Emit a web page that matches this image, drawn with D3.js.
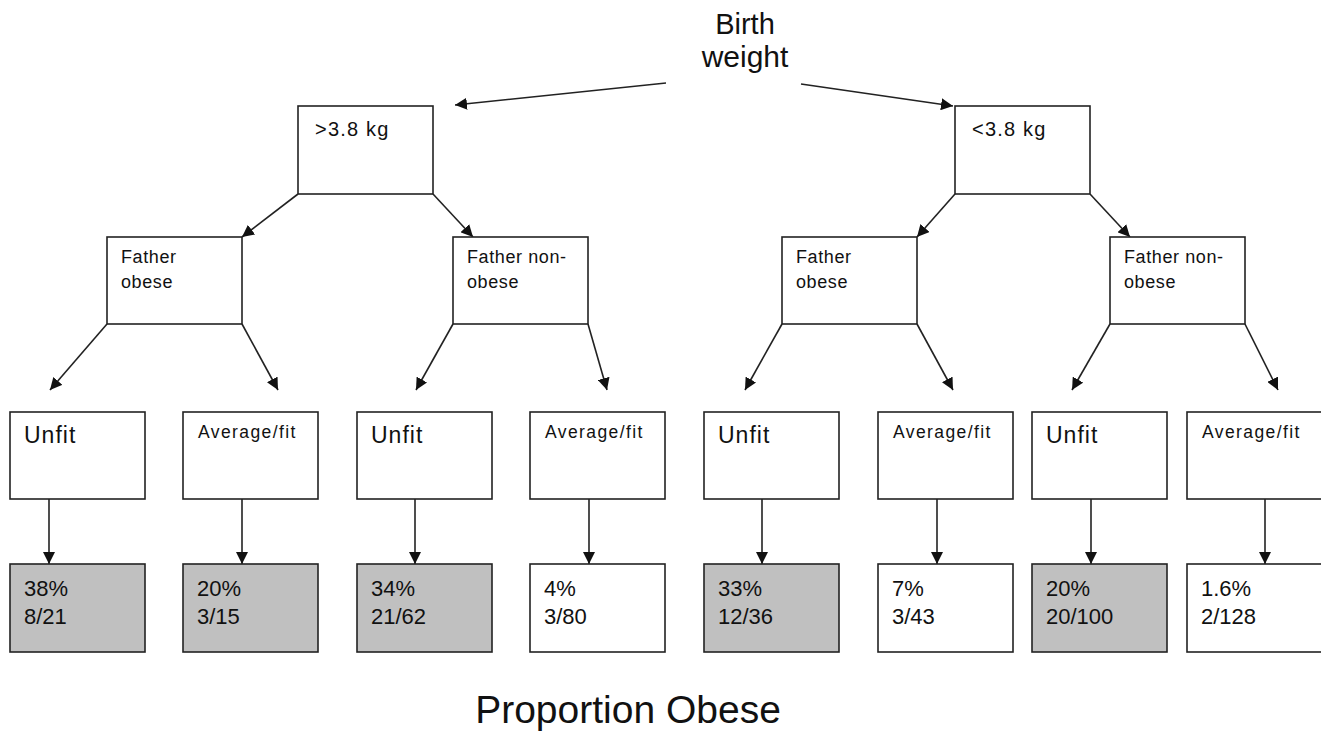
<!DOCTYPE html>
<html>
<head>
<meta charset="utf-8">
<script src="https://cdn.jsdelivr.net/npm/d3@7"></script>
<style>
  body { margin: 0; background: #fff; }
  svg text { font-family: Arial, "Liberation Sans", sans-serif; fill: #111; }
</style>
</head>
<body>
<svg width="1321" height="733"></svg>
<script>
// ---- data ----
const rootLabel = ["Birth", "weight"];
const weightGroups = [">3.8 kg", "<3.8 kg"];
const fatherGroups = [["Father", "obese"], ["Father non-", "obese"]];
const fitnessGroups = ["Unfit", "Average/fit"];
const percentLabels = ["38%", "20%", "34%", "4%", "33%", "7%", "20%", "1.6%"];
const obeseCounts = [8, 3, 21, 3, 12, 3, 20, 2];
const totalCounts = [21, 15, 62, 80, 36, 43, 100, 128];
const title = "Proportion Obese";

// ---- layout (pixel placement of the diagram) ----
const boxW = 135;
const rowTop = [106, 237, 412, 564];
const rowH = [88, 87, 87, 88];
const col1 = [298, 955];
const col2 = [107, 453, 782, 1110];
const col3 = [10, 183, 357, 530, 704, 878, 1032, 1187];
const leafArrowX = [49, 242, 415, 589, 762, 937, 1091, 1265];
const branchTipY = 390;
const branchTips = [[50, 278], [416, 607], [745, 953], [1072, 1278]];

const svg = d3.select("svg");

// leaves shaded when proportion obese >= 20%
const shade = d3.scaleThreshold().domain([0.2]).range(["#ffffff", "#c0c0c0"]);

svg.append("defs").append("marker")
  .attr("id", "ah")
  .attr("viewBox", "0 0 10 10")
  .attr("refX", 10).attr("refY", 5)
  .attr("markerWidth", 7.5).attr("markerHeight", 7.5)
  .attr("markerUnits", "strokeWidth")
  .attr("orient", "auto")
  .append("path").attr("d", "M0,0 L10,5 L0,10 Z").attr("fill", "#111");

const arrows = svg.append("g")
  .attr("stroke", "#222").attr("stroke-width", 1.6).attr("fill", "none");

function arrow(x1, y1, x2, y2) {
  arrows.append("line")
    .attr("x1", x1).attr("y1", y1).attr("x2", x2).attr("y2", y2)
    .attr("marker-end", "url(#ah)");
}

function box(x, y, h, fill) {
  svg.append("rect")
    .attr("x", x).attr("y", y).attr("width", boxW).attr("height", h)
    .attr("fill", fill).attr("stroke", "#222").attr("stroke-width", 1.6);
}

// root label
svg.append("text")
  .attr("x", 745).attr("y", 34)
  .attr("text-anchor", "middle").attr("font-size", 29)
  .selectAll("tspan").data(rootLabel).join("tspan")
  .attr("x", 745).attr("dy", (d, i) => i ? 33 : 0)
  .attr("font-size", (d, i) => i ? 30 : 29)
  .text(d => d);

// root -> weight boxes
arrow(666, 83, 455, 105);
arrow(801, 84, 953, 106);

// level 1
weightGroups.forEach((lab, i) => {
  const x = col1[i];
  box(x, rowTop[0], rowH[0], "#fff");
  svg.append("text")
    .attr("x", x + 17).attr("y", rowTop[0] + 30)
    .attr("font-size", 20).attr("letter-spacing", 1.2)
    .text(lab);
  // arrows to father boxes
  const y0 = rowTop[0] + rowH[0];
  arrow(x, y0, col2[i * 2] + boxW, rowTop[1]);
  arrow(x + boxW, y0, col2[i * 2 + 1] + 20, rowTop[1]);
});

// level 2
col2.forEach((x, j) => {
  box(x, rowTop[1], rowH[1], "#fff");
  const lines = fatherGroups[j % 2];
  svg.append("text")
    .attr("font-size", 18).attr("letter-spacing", 0.6)
    .selectAll("tspan").data(lines).join("tspan")
    .attr("x", x + 14)
    .attr("y", (d, i) => rowTop[1] + 26 + i * 25)
    .text(d => d);
  const y0 = rowTop[1] + rowH[1];
  arrow(x, y0, branchTips[j][0], branchTipY);
  arrow(x + boxW, y0, branchTips[j][1], branchTipY);
});

// level 3 + leaves
col3.forEach((x, k) => {
  const fit = fitnessGroups[k % 2];
  box(x, rowTop[2], rowH[2], "#fff");
  const t = svg.append("text").text(fit);
  if (k % 2 === 0) {
    t.attr("x", x + 14).attr("y", rowTop[2] + 31)
     .attr("font-size", 23).attr("letter-spacing", 1);
  } else {
    t.attr("x", x + 15).attr("y", rowTop[2] + 26)
     .attr("font-size", 17.5).attr("letter-spacing", 1.4);
  }
  arrow(leafArrowX[k], rowTop[2] + rowH[2], leafArrowX[k], rowTop[3]);

  const p = obeseCounts[k] / totalCounts[k];
  box(x, rowTop[3], rowH[3], shade(p));
  svg.append("text")
    .attr("font-size", 22)
    .selectAll("tspan").data([percentLabels[k], obeseCounts[k] + "/" + totalCounts[k]]).join("tspan")
    .attr("x", x + 14)
    .attr("y", (d, i) => rowTop[3] + 32 + i * 28)
    .text(d => d);
});

svg.append("text")
  .attr("x", 628).attr("y", 723)
  .attr("text-anchor", "middle").attr("font-size", 39)
  .text(title);
</script>
</body>
</html>
